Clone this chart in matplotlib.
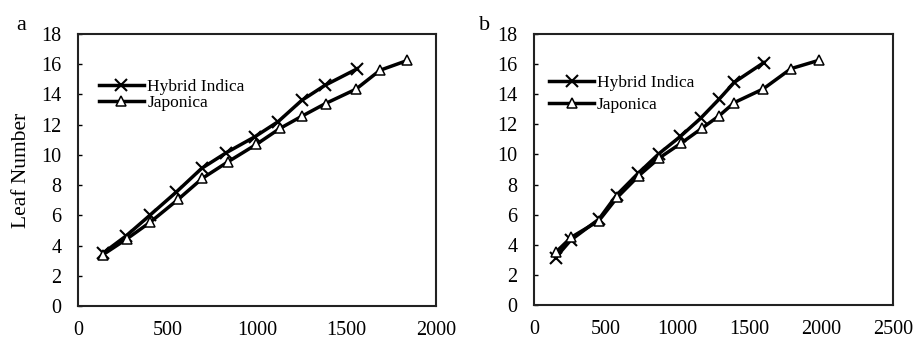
import matplotlib
matplotlib.use("Agg")
import matplotlib.pyplot as plt

plt.rcParams['font.family'] = ['Liberation Serif', 'DejaVu Serif']

# Panel a data
a_hybrid_x = [140, 270, 401, 550, 690, 829, 988, 1118, 1249, 1379, 1560]
a_hybrid_y = [3.5, 4.65, 6.0, 7.55, 9.1, 10.15, 11.2, 12.2, 13.6, 14.6, 15.7]
a_jap_x = [140, 274, 404, 559, 695, 839, 997, 1128, 1249, 1383, 1553, 1687, 1840]
a_jap_y = [3.4, 4.45, 5.55, 7.05, 8.45, 9.55, 10.7, 11.75, 12.55, 13.4, 14.35, 15.6, 16.25]

# Panel b data
b_hybrid_x = [151, 255, 452, 575, 726, 870, 1020, 1160, 1287, 1396, 1600]
b_hybrid_y = [3.15, 4.3, 5.7, 7.3, 8.75, 10.05, 11.2, 12.4, 13.65, 14.8, 16.1]
b_jap_x = [151, 260, 452, 580, 731, 870, 1025, 1171, 1287, 1396, 1596, 1790, 1983]
b_jap_y = [3.5, 4.5, 5.6, 7.15, 8.6, 9.75, 10.75, 11.75, 12.55, 13.45, 14.35, 15.7, 16.25]

y_ticks = [0, 2, 4, 6, 8, 10, 12, 14, 16, 18]
a_x_ticks = [0, 500, 1000, 1500, 2000]
b_x_ticks = [0, 500, 1000, 1500, 2000, 2500]
labels = ["Hybrid Indica", "Japonica"]
ylabel = "Leaf Number"

W, H = 914, 340
fig = plt.figure(figsize=(W / 100, H / 100), dpi=100)

def make_ax(left_px, right_px, top_px, bottom_px):
    return fig.add_axes([left_px / W, (H - bottom_px) / H,
                         (right_px - left_px) / W, (bottom_px - top_px) / H])

ax_a = make_ax(78, 436, 34, 306)
ax_b = make_ax(534, 893, 34, 305)

def style(ax, xticks, xmax):
    ax.set_xlim(0, xmax)
    ax.set_ylim(0, 18)
    ax.set_xticks(xticks)
    ax.set_yticks(y_ticks)
    ax.tick_params(axis='y', direction='in', length=3, width=1, pad=12, labelsize=14.5)
    ax.tick_params(axis='x', length=0, pad=10.5, labelsize=14.5)
    for s in ax.spines.values():
        s.set_linewidth(1.5)
        s.set_color('#222222')

def plot(ax, hx, hy, jx, jy):
    ax.plot(hx, hy, color='black', lw=2.5, marker='x', ms=8.5, mew=1.5,
            label=labels[0])
    ax.plot(jx, jy, color='black', lw=2.5, marker='^', ms=6.5, mew=1.1,
            mfc='white', mec='black', label=labels[1])

plot(ax_a, a_hybrid_x, a_hybrid_y, a_jap_x, a_jap_y)
plot(ax_b, b_hybrid_x, b_hybrid_y, b_jap_x, b_jap_y)
style(ax_a, a_x_ticks, 2000)
style(ax_b, b_x_ticks, 2500)

ax_a.legend(loc='upper left', bbox_to_anchor=(0.058, 0.835), frameon=False,
            fontsize=12.5, handlelength=2.6, handletextpad=0.2, labelspacing=0.0,
            borderpad=0, borderaxespad=0)
ax_b.legend(loc='upper left', bbox_to_anchor=(0.042, 0.85), frameon=False,
            fontsize=12.5, handlelength=2.6, handletextpad=0.15, labelspacing=0.35,
            borderpad=0, borderaxespad=0)

ax_a.set_ylabel(ylabel, fontsize=15.5, labelpad=7)

fig.text(21 / W, 1 - 25 / H, "a", fontsize=16, ha='center', va='center')
fig.text(485 / W, 1 - 25 / H, "b", fontsize=16, ha='center', va='center')

fig.savefig("out.png", dpi=100)
